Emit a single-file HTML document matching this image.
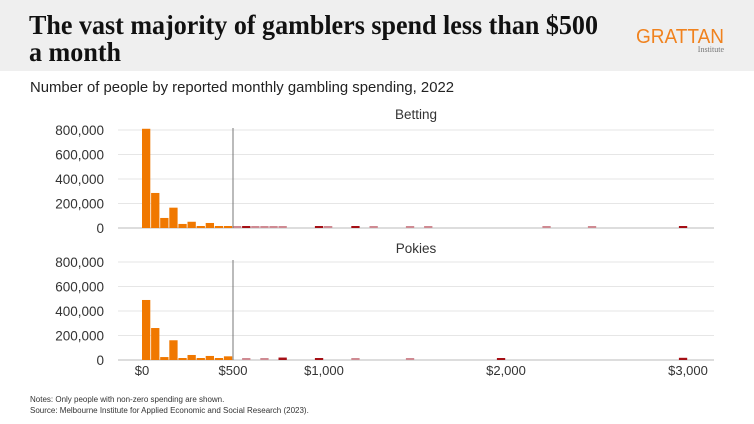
<!DOCTYPE html>
<html><head><meta charset="utf-8"><style>
body{margin:0;background:#fff}
svg{display:block;font-family:"Liberation Sans",sans-serif}
</style></head><body>
<svg width="754" height="424" viewBox="0 0 754 424" id="c">
<rect x="0" y="0" width="754" height="71" fill="#efefef"/>
<text x="29" y="34" font-family="Liberation Serif,serif" font-weight="bold" font-size="27" textLength="569" lengthAdjust="spacingAndGlyphs" fill="#111">The vast majority of gamblers spend less than $500</text>
<text x="29" y="61" font-family="Liberation Serif,serif" font-weight="bold" font-size="27" textLength="92" lengthAdjust="spacingAndGlyphs" fill="#111">a month</text>
<text x="636" y="43" font-size="20" fill="#f0821e" textLength="88" lengthAdjust="spacingAndGlyphs">GRATTAN</text>
<text x="724" y="52" font-size="8" fill="#777" text-anchor="end" font-family="Liberation Serif,serif">Institute</text>
<text x="30" y="92" font-size="14.5" fill="#222" textLength="424" lengthAdjust="spacingAndGlyphs">Number of people by reported monthly gambling spending, 2022</text>
<text x="416" y="119" font-size="13.5" fill="#333" text-anchor="middle">Betting</text>
<text x="416" y="253" font-size="13.5" fill="#333" text-anchor="middle">Pokies</text>
<g id="g"></g>
<text x="30" y="402" font-size="8" fill="#333">Notes: Only people with non-zero spending are shown.</text>
<text x="30" y="413" font-size="8" fill="#333">Source: Melbourne Institute for Applied Economic and Social Research (2023).</text>
</svg>
<script>
const yTicks=[0,200000,400000,600000,800000];
const yTickLabels=["0","200,000","400,000","600,000","800,000"];
const xTicks=[0,500,1000,2000,3000];
const xTickLabels=["$0","$500","$1,000","$2,000","$3,000"];
const binWidth=50;
const bettingBins=[0,50,100,150,200,250,300,350,400,450,500,550,600,650,700,750,950,1000,1150,1250,1450,1550,2200,2450,2950];
const bettingValues=[810000,286000,82000,166000,33000,51000,3000,41000,3000,14000,4000,8000,3000,4000,3000,3000,6000,3000,5000,3000,3000,3000,3000,3000,6000];
const pokiesBins=[0,50,100,150,200,250,300,350,400,450,550,650,750,950,1150,1450,1950,2950];
const pokiesValues=[490000,261000,24000,161000,5000,41000,3000,33000,16000,30000,4000,3000,20000,12000,3000,3000,12000,18000];
const NS="http://www.w3.org/2000/svg";
const g=document.getElementById('g');
const x=v=>142+v*0.182;
function mk(t,a){const e=document.createElementNS(NS,t);for(const k in a)e.setAttribute(k,a[k]);g.appendChild(e);return e;}
function panel(base,bins,vals,name){
  const y=v=>base-v/800000*98;
  yTicks.forEach((t,i)=>{
    const l=mk('line',{x1:118,x2:714,y1:y(t),y2:y(t),stroke:i==0?'#bbb':'#e6e6e6','stroke-width':1});
    
    
    const tx=mk('text',{x:104,y:y(t)+5,'font-size':13.5,fill:'#333','text-anchor':'end'});
    tx.textContent=yTickLabels[i];
    
    
  });
  bins.forEach((b,i)=>{
    const v=vals[i];
    let col=b<500?'#f07800':(v>=5000?'#a50f15':'#cf8a92');
    const h=Math.max(2,base-y(v));
    const r=mk('rect',{x:x(b),y:base-h,width:x(b+binWidth)-x(b)-0.8,height:h,fill:col});
    
    
  });
  const m=mk('line',{x1:x(500),x2:x(500),y1:base-100,y2:base,stroke:'#777','stroke-width':1});
  
  
}
panel(228,bettingBins,bettingValues,'betting');
panel(360,pokiesBins,pokiesValues,'pokies');
xTicks.forEach((t,i)=>{
  const tx=mk('text',{x:x(t),y:375,'font-size':13,fill:'#333','text-anchor':'middle'});
  tx.textContent=xTickLabels[i];
  
  
});
</script>
</body></html>
